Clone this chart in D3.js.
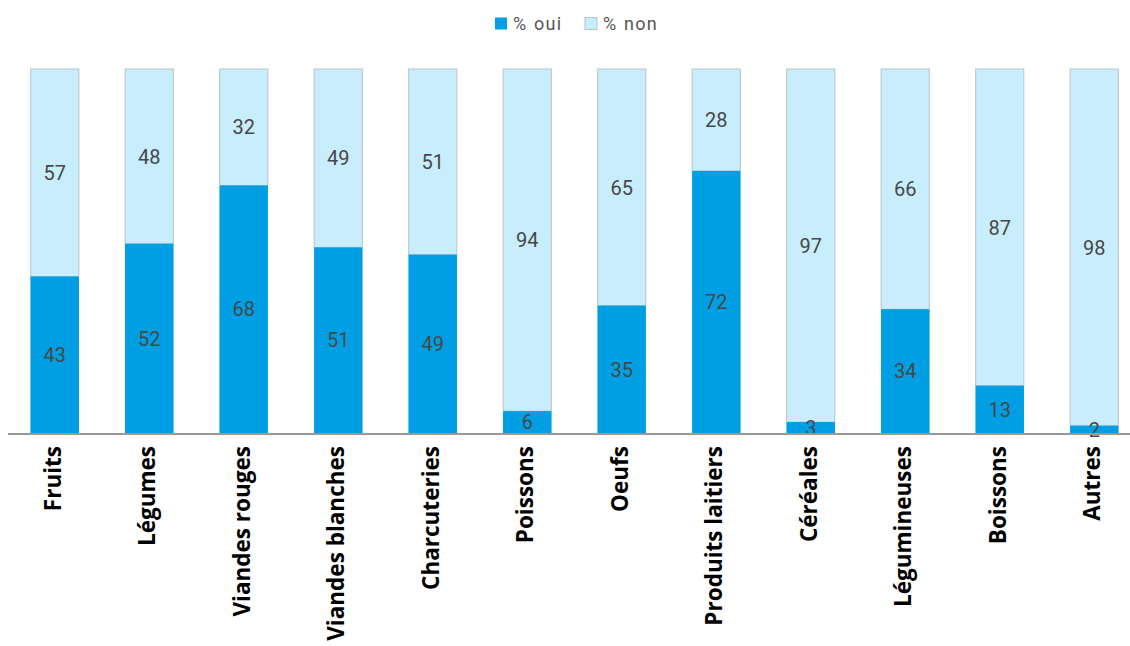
<!DOCTYPE html>
<html><head><meta charset="utf-8">
<script src="https://cdn.jsdelivr.net/npm/d3@7"></script>
<style>body{margin:0;background:#fff;} svg{display:block;}</style>
</head><body>
<svg id="chart" width="1130" height="646"></svg>
<script>
const categories = ["Fruits","Légumes","Viandes rouges","Viandes blanches","Charcuteries","Poissons","Oeufs","Produits laitiers","Céréales","Légumineuses","Boissons","Autres"];
const oui = [43,52,68,51,49,6,35,72,3,34,13,2];
const non = [57,48,32,49,51,94,65,28,97,66,87,98];
const seriesNames = ["% oui","% non"];
const colors = ["#009fe3","#c8edfd"];

const svg = d3.select("#chart");
const x = d3.scaleBand().domain(categories).range([7.5, 1141.5]).paddingInner(0.49).paddingOuter(0.245);
const y = d3.scaleLinear().domain([0,100]).range([433,69]);

const data = categories.map((c,i)=>({cat:c, oui:oui[i], non:non[i]}));
const stack = d3.stack().keys(["oui","non"])(data);

const g = svg.append("g");
stack.forEach((layer,li)=>{
  g.selectAll(null).data(layer).enter().append("rect")
    .attr("x", d=>x(d.data.cat))
    .attr("width", x.bandwidth())
    .attr("y", d=>y(d[1]))
    .attr("height", d=>y(d[0])-y(d[1]))
    .attr("fill", colors[li])
    .attr("stroke", li===1 ? "#b8c4ca" : "none")
    .attr("stroke-width", 1);
});
g.selectAll(null).data(stack[0]).enter().append("rect")
  .attr("x", d=>x(d.data.cat))
  .attr("width", x.bandwidth())
  .attr("y", d=>y(d[1]))
  .attr("height", d=>y(d[0])-y(d[1]))
  .attr("fill", colors[0]);

stack.forEach((layer)=>{
  g.selectAll(null).data(layer).enter().append("text")
    .attr("x", d=>x(d.data.cat)+x.bandwidth()/2)
    .attr("y", d=>(y(d[0])+y(d[1]))/2)
    .attr("dy","0.36em")
    .attr("text-anchor","middle")
    .attr("font-family","Roboto, sans-serif")
    .attr("font-size",20)
    .attr("fill","#474747")
    .text(d=>d[1]-d[0]);
});

const xAxis = d3.axisBottom(x).tickSize(0).tickPadding(0);
const ax = svg.append("g").attr("transform","translate(0,433)").call(xAxis);
ax.select(".domain").remove();
svg.append("line").attr("x1",8).attr("x2",1130).attr("y1",434).attr("y2",434)
  .attr("stroke","#999").attr("stroke-width",2);
ax.selectAll(".tick text")
  .attr("font-family","'Open Sans', sans-serif")
  .attr("font-weight","bold")
  .attr("font-size",22.5)
  .attr("fill","#000")
  .attr("text-anchor","end")
  .attr("transform","rotate(-90)")
  .attr("x",-13)
  .attr("y",-2)
  .attr("dy","0.35em");

const legendX = [495, 585];
const lg = svg.append("g");
seriesNames.forEach((n,i)=>{
  lg.append("rect").attr("x",legendX[i]).attr("y",17.5).attr("width",12).attr("height",12)
    .attr("fill",colors[i]).attr("stroke", i===1?"#b8c4ca":"none");
  lg.append("text").attr("x",legendX[i]+18).attr("y",24).attr("dy","0.35em")
    .attr("font-family","Roboto, sans-serif").attr("font-size",18).attr("letter-spacing","1.2px")
    .attr("word-spacing","1px").attr("fill","#555").text(n);
});
</script>
</body></html>
